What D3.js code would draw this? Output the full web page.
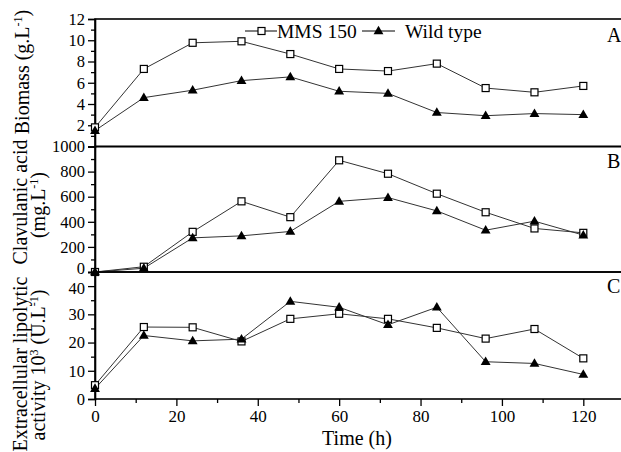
<!DOCTYPE html>
<html><head><meta charset="utf-8">
<script src="https://cdn.jsdelivr.net/npm/d3@7"></script>
<style>
body{margin:0;background:#fff;}
svg{display:block;}
svg text{font-family:"Liberation Serif","Times New Roman",serif !important;fill:#000;font-weight:normal;}
</style></head>
<body><svg id="c" width="621" height="452"></svg>
<script>
// ---- data ----
const times = [0, 12, 24, 36, 48, 60, 72, 84, 96, 108, 120];
const biomassMMS  = [1.8, 7.3, 9.76, 9.9, 8.7, 7.3, 7.1, 7.8, 5.5, 5.1, 5.7];
const biomassWild = [1.5, 4.6, 5.3, 6.2, 6.55, 5.2, 5.0, 3.2, 2.9, 3.1, 3.0];
const clavMMS  = [0, 42, 320, 563, 437, 890, 783, 624, 476, 347, 312];
const clavWild = [0, 30, 272, 288, 323, 563, 593, 487, 333, 405, 294];
const lipoMMS  = [4.9, 25.5, 25.4, 20.4, 28.4, 30.2, 28.4, 25.2, 21.4, 24.8, 14.4];
const lipoWild = [3.7, 22.5, 20.6, 21.2, 34.6, 32.5, 26.3, 32.5, 13.2, 12.6, 8.7];
const xTicks = [0, 20, 40, 60, 80, 100, 120];
const xMinor = [10, 30, 50, 70, 90, 110, 130];
const biomassTicks = [2, 4, 6, 8, 10, 12];
const biomassMinor = [1, 3, 5, 7, 9, 11];
const clavTicks = [0, 200, 400, 600, 800, 1000];
const clavMinor = [100, 300, 500, 700, 900];
const lipoTicks = [0, 10, 20, 30, 40];
const lipoMinor = [5, 15, 25, 35, 45];
const seriesNames = ["MMS 150", "Wild type"];
const panelLetters = ["A", "B", "C"];

const FONT = "Liberation Serif";
const svg = d3.select("#c");
const L = 95, R = 624;
const x = d3.scaleLinear().domain([0, 130]).range([L, R]);

const panels = [
  {dom:[0,12], rng:[146.5,19], ticks:biomassTicks, minor:biomassMinor, mms:biomassMMS, wild:biomassWild, letter:panelLetters[0], ly:42},
  {dom:[0,1000], rng:[272,146.5], ticks:clavTicks, minor:clavMinor, mms:clavMMS, wild:clavWild, letter:panelLetters[1], ly:168},
  {dom:[0,45], rng:[399,272], ticks:lipoTicks, minor:lipoMinor, mms:lipoMMS, wild:lipoWild, letter:panelLetters[2], ly:293}
];

const triPath = d3.symbol().type(d3.symbolTriangle).size(42);

panels.forEach((p, pi) => {
  const y = d3.scaleLinear().domain(p.dom).range(p.rng);
  svg.append("rect").attr("x", L).attr("y", p.rng[1]).attr("width", R - L).attr("height", p.rng[0] - p.rng[1])
    .attr("fill", "none").attr("stroke", "#000").attr("stroke-width", 1.6);
  const ga = svg.append("g").attr("transform", `translate(${L},0)`)
    .call(d3.axisLeft(y).tickValues(p.ticks).tickSize(7).tickPadding(3).tickFormat(d3.format("d")));
  ga.attr("font-family", FONT);
  ga.select(".domain").attr("stroke-width", 1.6);
  ga.selectAll(".tick line").attr("stroke-width", 1.3);
  ga.selectAll("text").style("font-size", "16.5px");
  // keep the crowded labels at the panel joins apart
  if (pi === 1) ga.selectAll(".tick text").filter(d => d === 0).attr("dy", "0.1em");
  if (pi === 2) ga.selectAll(".tick text").filter(d => d === 40).attr("dy", "0.45em");
  const gm = svg.append("g").attr("transform", `translate(${L},0)`)
    .call(d3.axisLeft(y).tickValues(p.minor).tickSize(4).tickFormat(""));
  gm.select(".domain").remove();
  gm.selectAll(".tick line").attr("stroke-width", 1.3);

  const line = d3.line().x((d, i) => x(times[i])).y(d => y(d));
  svg.append("path").datum(p.mms).attr("d", line).attr("fill", "none").attr("stroke", "#333").attr("stroke-width", 1);
  svg.append("path").datum(p.wild).attr("d", line).attr("fill", "none").attr("stroke", "#333").attr("stroke-width", 1);
  svg.append("g").selectAll("rect").data(p.mms).join("rect")
    .attr("x", (d, i) => x(times[i]) - 3.5).attr("y", d => y(d) - 3.5)
    .attr("width", 7).attr("height", 7).attr("fill", "#fff").attr("stroke", "#000").attr("stroke-width", 1.2);
  svg.append("g").selectAll("path").data(p.wild).join("path")
    .attr("d", triPath).attr("transform", (d, i) => `translate(${x(times[i])},${y(d) + 0.5})`)
    .attr("fill", "#000");

  svg.append("text").attr("x", 607).attr("y", p.ly).attr("font-family", FONT).style("font-size", "20px").text(p.letter);
});

// x axis
const gx = svg.append("g").attr("transform", `translate(0,399)`)
  .call(d3.axisBottom(x).tickValues(xTicks).tickSize(7).tickPadding(4).tickFormat(d3.format("d")));
gx.attr("font-family", FONT);
gx.select(".domain").remove();
gx.selectAll(".tick line").attr("stroke-width", 1.3);
gx.selectAll("text").style("font-size", "17px");
const gxm = svg.append("g").attr("transform", `translate(0,399)`)
  .call(d3.axisBottom(x).tickValues(xMinor).tickSize(4).tickFormat(""));
gxm.select(".domain").remove();
gxm.selectAll(".tick line").attr("stroke-width", 1.3);

svg.append("text").attr("x", 357).attr("y", 445).attr("text-anchor", "middle")
  .attr("font-family", FONT).style("font-size", "20px").text("Time (h)");

// y titles
function vtext(cx, cy, parts) {
  const t = svg.append("text").attr("transform", `translate(${cx},${cy}) rotate(-90)`)
    .attr("text-anchor", "middle").attr("font-family", FONT).style("font-size", "20px");
  parts.forEach(pt => {
    const s = t.append("tspan").text(pt.t);
    if (pt.sup) s.attr("baseline-shift", "super").style("font-size", "12px");
  });
}
vtext(29, 72, [{t:"Biomass (g.L"}, {t:"-1", sup:true}, {t:")"}]);
vtext(27, 202, [{t:"Clavulanic acid"}]);
vtext(45, 205, [{t:"(mg.L"}, {t:"-1", sup:true}, {t:")"}]);
vtext(27, 364, [{t:"Extracellular lipolytic"}]);
vtext(45, 365, [{t:"activity 10"}, {t:"3", sup:true}, {t:" (U.L"}, {t:"-1", sup:true}, {t:")"}]);

// legend
const lg = svg.append("g").attr("font-family", FONT);
lg.append("line").attr("x1", 245).attr("x2", 277).attr("y1", 31).attr("y2", 31).attr("stroke", "#000").attr("stroke-width", 1);
lg.append("rect").attr("x", 258).attr("y", 27.5).attr("width", 7).attr("height", 7).attr("fill", "#fff").attr("stroke", "#000").attr("stroke-width", 1.2);
lg.append("text").attr("x", 277).attr("y", 38).style("font-size", "19.5px").text(seriesNames[0]);
lg.append("line").attr("x1", 362).attr("x2", 395).attr("y1", 31).attr("y2", 31).attr("stroke", "#000").attr("stroke-width", 1);
lg.append("path").attr("d", triPath).attr("transform", "translate(378.5,31.5)").attr("fill", "#000");
lg.append("text").attr("x", 405).attr("y", 38).style("font-size", "19.5px").text(seriesNames[1]);
</script></body></html>
